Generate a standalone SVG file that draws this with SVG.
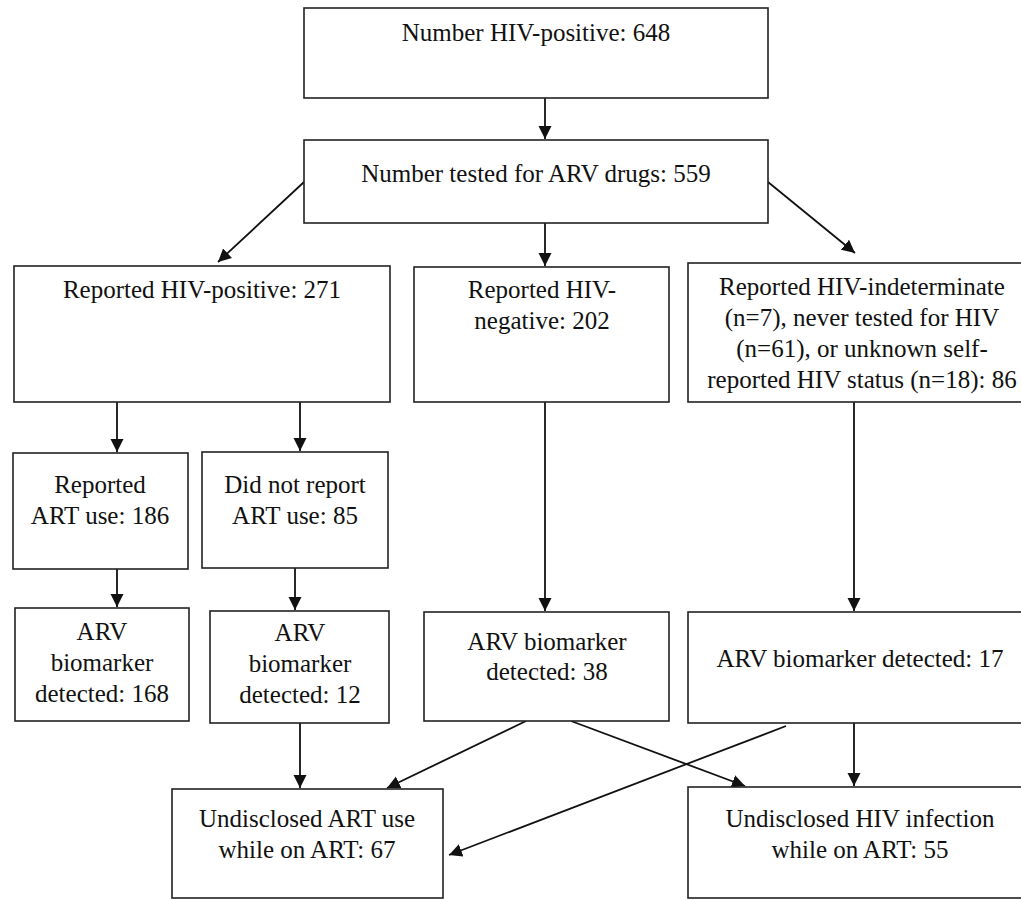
<svg xmlns="http://www.w3.org/2000/svg" width="1021" height="900" viewBox="0 0 1021 900">
<style>
.box{fill:#fff;stroke:#222;stroke-width:1.6}
.t{font-family:"Liberation Serif","Times New Roman",serif;font-size:25px;fill:#111;text-anchor:middle}
.c{stroke:#111;stroke-width:1.8;fill:none;marker-end:url(#ah)}
</style>
<defs>
<marker id="ah" markerUnits="userSpaceOnUse" markerWidth="14" markerHeight="14" refX="13" refY="7" orient="auto" viewBox="0 0 14 14">
<path d="M0,0.5 L13,7 L0,13.5 z" fill="#111"/>
</marker>
</defs>
<rect width="1021" height="900" fill="#fff"/>
<g id="connectors">
<line class="c" x1="545" y1="98" x2="545" y2="139"/>
<line class="c" x1="304" y1="182" x2="218" y2="262"/>
<line class="c" x1="545" y1="223" x2="545" y2="266"/>
<line class="c" x1="768" y1="182" x2="855" y2="253"/>
<line class="c" x1="117" y1="402" x2="117" y2="452"/>
<line class="c" x1="300" y1="402" x2="300" y2="451"/>
<line class="c" x1="117" y1="569" x2="117" y2="607"/>
<line class="c" x1="295" y1="568" x2="295" y2="610"/>
<line class="c" x1="545" y1="402" x2="545" y2="611"/>
<line class="c" x1="854" y1="402" x2="854" y2="611"/>
<line class="c" x1="300" y1="723" x2="300" y2="788"/>
<line class="c" x1="526" y1="721" x2="387" y2="788"/>
<line class="c" x1="571" y1="721" x2="745" y2="786"/>
<line class="c" x1="786" y1="726" x2="449" y2="855"/>
<line class="c" x1="854" y1="723" x2="854" y2="786"/>
</g>
<g id="n1"><rect class="box" x="304" y="8" width="464" height="90"/><text class="t" x="536" y="41">Number HIV-positive: 648</text></g>
<g id="n2"><rect class="box" x="304" y="140" width="464" height="83"/><text class="t" x="536" y="182">Number tested for ARV drugs: 559</text></g>
<g id="n3"><rect class="box" x="14" y="266" width="376" height="136"/><text class="t" x="202" y="298">Reported HIV-positive: 271</text></g>
<g id="n4"><rect class="box" x="414" y="267" width="255" height="135"/><text class="t" x="542" y="298">Reported HIV-</text><text class="t" x="542" y="329">negative: 202</text></g>
<g id="n5"><rect class="box" x="688" y="263" width="350" height="139"/><text class="t" x="862" y="295">Reported HIV-indeterminate</text><text class="t" x="862" y="326">(n=7), never tested for HIV</text><text class="t" x="862" y="357">(n=61), or unknown self-</text><text class="t" x="862" y="388">reported HIV status (n=18): 86</text></g>
<g id="n6"><rect class="box" x="13" y="453" width="175" height="116"/><text class="t" x="100" y="493">Reported</text><text class="t" x="100" y="524">ART use: 186</text></g>
<g id="n7"><rect class="box" x="202" y="452" width="186" height="116"/><text class="t" x="295" y="493">Did not report</text><text class="t" x="295" y="524">ART use: 85</text></g>
<g id="n8"><rect class="box" x="15" y="608" width="174" height="113"/><text class="t" x="102" y="640">ARV</text><text class="t" x="102" y="671">biomarker</text><text class="t" x="102" y="702">detected: 168</text></g>
<g id="n9"><rect class="box" x="210" y="611" width="179" height="112"/><text class="t" x="300" y="641">ARV</text><text class="t" x="300" y="672">biomarker</text><text class="t" x="300" y="703">detected: 12</text></g>
<g id="n10"><rect class="box" x="424" y="612" width="245" height="109"/><text class="t" x="547" y="650">ARV biomarker</text><text class="t" x="547" y="680">detected: 38</text></g>
<g id="n11"><rect class="box" x="688" y="612" width="350" height="111"/><text class="t" x="860" y="667">ARV biomarker detected: 17</text></g>
<g id="n12"><rect class="box" x="172" y="789" width="271" height="109"/><text class="t" x="307" y="827">Undisclosed ART use</text><text class="t" x="307" y="858">while on ART: 67</text></g>
<g id="n13"><rect class="box" x="688" y="787" width="350" height="111"/><text class="t" x="860" y="827">Undisclosed HIV infection</text><text class="t" x="860" y="858">while on ART: 55</text></g>
</svg>
